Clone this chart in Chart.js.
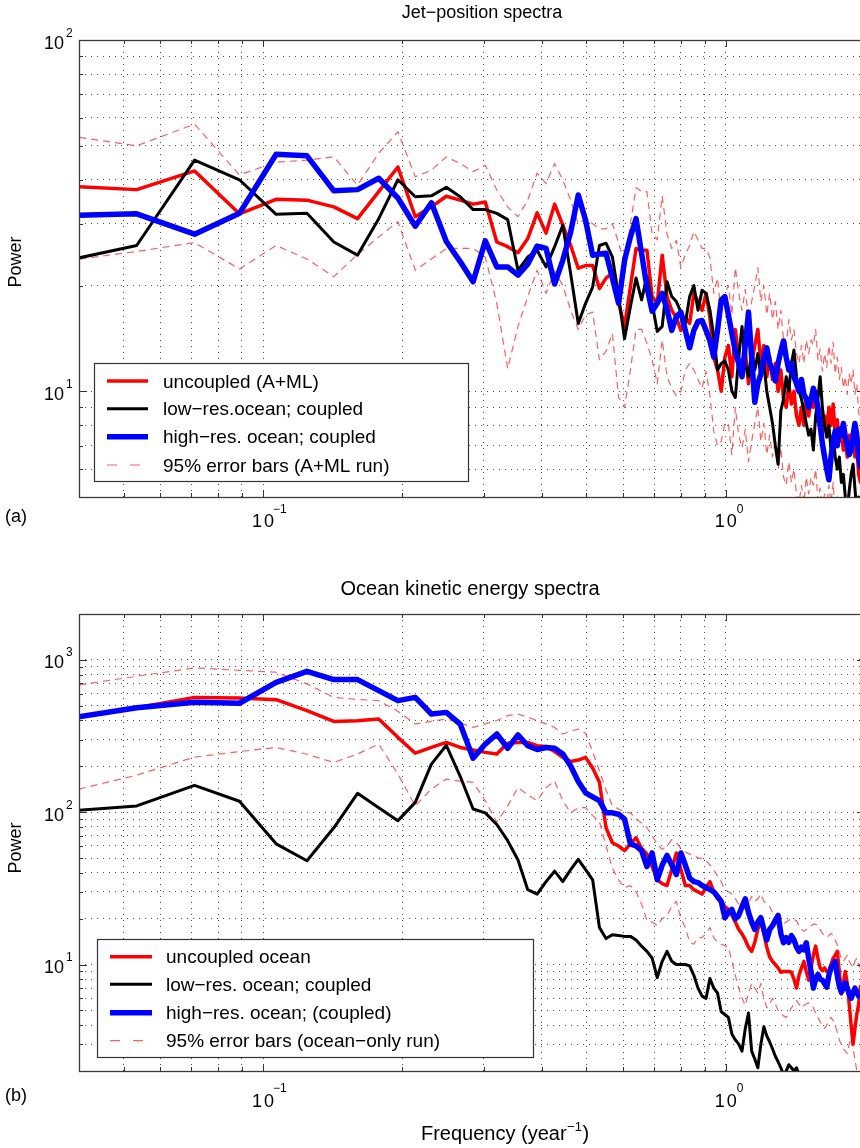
<!DOCTYPE html>
<html><head><meta charset="utf-8">
<script src="https://cdn.jsdelivr.net/npm/chart.js@4.4.0/dist/chart.umd.min.js"></script>
<style>
html,body{margin:0;padding:0;background:#fff;overflow:hidden;width:860px;height:1148px;}
#wrapA{position:absolute;left:0;top:0;width:870px;height:560px;}
#wrapB{position:absolute;left:0;top:560px;width:870px;height:588px;}
</style></head><body>
<div id="wrapA"><canvas id="cA" width="870" height="560"></canvas></div>
<div id="wrapB"><canvas id="cB" width="870" height="588"></canvas></div>
<script>
// frequencies (year^-1)
const freq = [
0.0356,0.0533,0.0711,0.0889,0.1067,0.1244,0.1422,0.1600,0.1778,0.1956,
0.2133,0.2311,0.2489,0.2667,0.2844,0.3022,0.3200,0.3378,0.3556,0.3733,
0.3911,0.4089,0.4267,0.4444,0.4622,0.4800,0.4978,0.5156,0.5333,0.5511,
0.5689,0.5867,0.6044,0.6222,0.6400,0.6578,0.6756,0.6933,0.7111,0.7289,
0.7467,0.7644,0.7822,0.8000,0.8178,0.8356,0.8533,0.8711,0.8889,0.9067,
0.9244,0.9422,0.9600,0.9778,0.9956,1.0133,1.0311,1.0489,1.0667,1.0844,
1.1022,1.1200,1.1378,1.1556,1.1733,1.1911,1.2089,1.2267,1.2444,1.2622,
1.2800,1.2978,1.3156,1.3333,1.3511,1.3689,1.3867,1.4044,1.4222,1.4400,
1.4578,1.4756,1.4933,1.5111,1.5289,1.5467,1.5644,1.5822,1.6000,1.6178,
1.6356,1.6533,1.6711,1.6889,1.7067,1.7244,1.7422,1.7600,1.7778,1.7956,
1.8133,1.8311,1.8489,1.8667,1.8844,1.9022,1.9200,1.9378,1.9556,1.9733,
1.9911,2.0089];

// (a) Jet-position spectra
const jetUncoupled = [
38.5,37.5,42.4,32.0,35.2,35.0,33.5,31.0,37.0,43.5,
31.4,33.5,35.9,35.0,34.1,34.6,26.6,25.8,24.8,27.2,
32.2,28.2,34.1,29.7,26.0,22.4,22.8,22.8,19.6,21.0,
21.7,17.8,15.3,19.8,25.5,25.2,25.2,18.6,17.8,24.4,
18.6,17.0,16.2,14.9,16.2,15.6,19.0,18.0,17.0,19.0,
16.2,12.5,11.5,10.0,12.5,13.5,11.0,15.0,12.5,11.5,
13.0,10.5,12.0,13.5,15.0,12.0,13.5,11.0,12.5,10.8,
12.0,10.0,11.5,9.5,9.0,10.5,9.2,10.0,8.5,8.0,
9.0,8.0,9.5,8.5,9.5,9.0,10.0,8.2,8.8,7.6,
8.5,7.8,9.0,8.0,9.2,7.5,8.3,7.2,7.8,6.8,
7.3,6.5,7.5,7.0,7.7,6.5,7.0,5.8,5.5,6.0,
5.2,5.5];
const jetLowRes = [
23.2,26.0,45.5,40.0,31.9,32.1,26.6,24.4,31.0,40.0,
35.8,36.0,38.1,35.8,32.9,32.9,32.1,30.8,22.1,24.1,
25.2,22.6,25.8,29.7,21.6,15.6,17.8,19.8,26.0,26.4,
24.1,18.6,14.1,17.4,21.0,18.2,21.2,17.8,14.8,15.3,
20.5,18.6,18.0,16.8,15.6,18.6,20.0,17.0,19.4,19.0,
17.0,14.3,11.5,12.0,12.2,11.5,10.0,9.6,12.5,15.3,
12.0,11.0,13.0,11.5,12.8,11.0,12.0,10.0,9.0,8.1,
7.0,6.2,8.8,9.5,11.0,10.0,12.0,13.1,11.0,10.0,
9.5,8.8,8.1,7.5,7.8,6.8,8.5,9.5,11.0,9.0,
8.0,7.4,8.0,6.8,7.5,6.5,6.0,6.5,5.5,5.8,
5.0,4.6,5.2,5.8,6.2,5.3,4.5,5.0,4.6,5.2,
4.3,4.8];
const jetHighRes = [
31.6,32.0,28.0,32.1,47.3,46.8,37.2,37.5,40.4,35.5,
29.5,34.4,26.7,23.4,20.5,26.8,22.6,22.6,21.4,23.0,
25.9,25.5,20.2,23.6,28.4,36.2,30.7,24.4,24.6,24.7,
21.0,17.8,23.6,27.5,31.0,24.7,19.8,16.9,17.8,19.0,
17.1,14.9,16.3,16.8,14.9,13.3,14.9,15.8,15.9,14.9,
13.9,12.5,14.9,18.2,18.6,16.5,14.6,13.0,12.0,11.0,
13.5,16.8,12.5,9.3,10.5,11.2,12.5,13.3,12.0,11.5,
10.7,12.0,13.0,13.9,12.5,11.5,12.0,11.0,10.5,10.0,
10.8,9.8,9.5,9.0,9.5,10.2,9.7,9.0,8.0,7.1,
6.5,6.0,5.6,6.5,7.2,7.7,7.0,7.8,7.5,8.1,
7.4,7.0,6.6,6.8,7.5,8.1,7.5,6.5,6.1,6.6,
6.0,6.4];
const jetErrHigh = [
54,50,57.6,41.3,44.9,45.5,46.5,38.6,47.6,54.8,
40.8,42.6,46.5,44.5,42.2,44.0,37.4,33.5,31.4,35.0,
41.8,39.0,44.5,40,35,30,31,30,29,29,
30,26.5,23,30,38,37,37,28,27,36,
28,25.5,26.9,22.5,24.5,26,28.5,27,25.5,25.5,
24,19,21,16.5,19,20,16.5,22.5,19,17,
19.5,16,18,20,22.5,18,20,16.5,19,16,
18,15,17,14,13.5,16,14,15,12.8,12,
13.5,12,14,12.8,14,13.5,15,12.3,13.2,11.4,
12.8,11.7,13.5,12,13.8,11.2,12.5,10.8,11.7,10.2,
11,9.8,11.2,10.5,11.5,9.8,10.5,8.7,8.2,9,
7.8,8.2];
const jetErrLow = [
23.3,25,26.5,22.3,26.0,23.8,21.2,24.5,27.5,30.4,
22.1,23.8,25.5,25.5,25.5,24.1,17.8,11.6,15.3,18.6,
22.1,19.0,22.0,20,17,15,16.5,16.8,12.3,13,
14.6,9.6,9.0,11.5,15,15,13.7,12.3,10.5,14,
11,10.2,9.7,10.0,11.5,12.0,11.5,10.8,10.2,11.4,
9.7,7.7,7.0,7.2,8.1,8.1,6.6,9.0,7.5,6.9,
7.8,6.3,7.2,8.1,9.0,7.2,8.1,6.6,7.5,6.5,
7.2,6.0,6.9,5.7,5.4,6.3,5.5,6.0,5.1,4.8,
5.4,4.8,5.7,5.1,5.7,5.4,6.0,4.9,5.3,4.6,
5.1,4.7,5.4,4.8,5.5,4.5,5.0,4.3,4.7,4.1,
4.4,3.9,4.5,4.2,4.6,3.9,4.2,3.5,3.3,3.6,
3.1,3.3];

// (b) Ocean kinetic energy spectra
const oceanUncoupled = [
400,485,567,562,548,464,394,399,409,310,
244,266,287,266,256,247,241,284,287,287,
273,270,250,229,215,220,229,195,157,79,
63,60,56,62,68,58,53,44,36,34,
33,42,54,42,33,33,31,30,29,32,
35,30,27,26,24,23,21,19,17,15.9,
14.5,13,12.2,14,17,19.4,16,13,11.2,10.5,
10,9.5,8.9,9.0,9.0,9.0,8.9,8.0,7.0,8.5,
9.5,10.5,9.0,7.9,9.5,11.5,13.2,11,9.5,9.1,
9.5,9.0,9.0,10.0,11,11.5,12.2,9,6.4,7.5,
9.0,7.5,5.5,4.0,3.0,3.8,4.7,5.5,7.2,6.5,
5.5,6.0];
const oceanLowRes = [
100,110,150,118,62,48,79,133,107,88,
116,207,275,172,105,99,83,65,48.5,31,
29,35,41,35,42,49,42,36,17.5,14.8,
15.7,15.5,15.3,15.3,14.5,13.2,12.2,11.0,8.2,10.5,
12.2,10.5,10.0,10.0,10.0,9.8,8.5,7.0,6.2,6.0,
8.1,7.0,6.5,4.9,4.7,4.5,3.5,3.2,3.0,2.7,
3.8,4.8,2.7,2.4,2.1,3.0,3.9,3.4,3.1,2.8,
2.5,2.3,2.1,1.9,2.0,2.2,2.1,2.0,2.1,1.9,
1.7,1.8,1.6,1.7,1.5,1.6,1.4,1.5,1.3,1.4,
1.3,1.4,1.2,1.3,1.2,1.3,1.1,1.2,1.1,1.2,
1.0,1.1,1.0,1.1,1.0,1.0,1.0,1.0,1.0,1.0,
1.0,1.0];
const oceanHighRes = [
400,485,526,519,712,841,742,742,628,540,
567,441,452,379,226,280,326,263,322,273,
258,266,263,241,201,159,134,126,119,99,
99,97,90,62,60,56,44,54,36,45,
52,45,39,54,45,37,35,34.5,33,32,
31,30,28,26,20.3,22,23,20,21,24,
27,22,19,17,19,20.3,17,14.5,17,18,
19.5,21,16,13.9,15,14,15.5,14.5,13,12.2,
13,12.5,13.9,11,9,7.0,8.0,8.6,8.0,7.9,
7.5,7.1,8.5,9.5,10,10.5,8.5,7.2,6.6,7.0,
7.6,7.0,6.4,6.0,6.5,7.0,6.6,6.2,6.3,6.0,
5.7,6.0];
const oceanErrHigh = [
650,780,886,854,829,695,567,550,540,460,
379,395,409,385,360,380,400,430,441,420,
399,380,360,326,340,351,330,250,187,140,
110,105,100,99,90,85,79,70,62,57,
60,66,63,58,55,53,52,50,50,48,
45,42,38,35,31,30,29,27,25,24,
23,25,28,26,27,29,26,25,24,22,
21,20,19,18.5,19,19.5,20,19.7,19.4,18,
17,16.5,17,17.5,18,18.4,18.4,18,17,16,
15.5,15.1,15.5,16,15.5,14.5,13.5,12,11,10.5,
11,11.5,10.5,10,9.5,10.5,11,10,9.5,9.0,
9.5,9.0];
const oceanErrLow = [
130,175,230,250,266,240,212,241,280,178,
110,142,165,160,157,119,86,110,145,130,
119,145,160,119,99,107,107,95,87,60,
43,36,32,33,30,25,19.4,19,18,20,
21,24,26,20,17.5,14,13.6,15,15,16,
17.5,15,14,13.6,13.3,13,10.5,8.5,7,6,
5.4,6.5,7.5,7,6.5,7.5,6,5.2,5.5,6,
5.5,5,4.8,4.6,4.5,4.8,5.2,5.5,5.8,5.5,
5.2,5.4,5.5,5.6,5.5,5.2,4.8,4.5,4.2,4.0,
3.8,4.0,4.3,4.5,4.3,4.0,3.6,3.2,3.0,2.8,
2.7,2.6,3.0,3.3,2.8,2.4,2.0,1.8,1.9,2.2,
1.8,1.6];

// axis ticks
const xTicks = [0.04,0.05,0.06,0.07,0.08,0.09,0.1,0.2,0.3,0.4,0.5,0.6,0.7,0.8,0.9,1,2];
const yTicksJet = [5,6,7,8,9,10,20,30,40,50,60,70,80,90,100];
const yTicksOcean = [2,3,4,5,6,7,8,9,10,20,30,40,50,60,70,80,90,100,200,300,400,500,600,700,800,900,1000,2000];
const xTickLabels = [0.1, 1];
const yTickLabelsJet = [10, 100];
const yTickLabelsOcean = [10, 100, 1000];

const legendJet = ['uncoupled (A+ML)','low\u2212res.ocean; coupled','high\u2212res. ocean; coupled','95% error bars (A+ML run)'];
const legendOcean = ['uncoupled ocean','low\u2212res. ocean; coupled','high\u2212res. ocean; (coupled)','95% error bars (ocean\u2212only run)'];

const FONT = '"Liberation Sans", Arial, Helvetica, sans-serif';
const RED = '#ff0000', BLACK = '#000000', BLUE = '#0000ff', DASH = 'rgba(255,40,40,0.75)';
const styles = [
  {color: RED, width: 3.5, dash: []},
  {color: BLACK, width: 3, dash: []},
  {color: BLUE, width: 5.5, dash: []},
  {color: DASH, width: 1.2, dash: [7,5]}
];

function pts(arr){ return freq.map((f,i)=>({x:f, y:arr[i]})); }
function isDecade(v){ const l=Math.log10(v); return Math.abs(l-Math.round(l))<1e-9; }

function makeDatasets(unc, low, high, eh, el, labels){
  const clip = {left:0,top:0,right:0,bottom:0};
  const mk = (lab, arr, st, order)=>({label:lab, data:pts(arr), borderColor:st.color, borderWidth:st.width,
     borderDash:st.dash, pointRadius:0, tension:0, fill:false, order:order, clip:clip,
     borderJoinStyle:'round', borderCapStyle:'butt'});
  return [
    mk(labels[0], unc, styles[0], 3),
    mk(labels[1], low, styles[1], 2),
    mk(labels[2], high, styles[2], 1),
    mk(labels[3], eh, styles[3], 4),
    mk(labels[3]+' ', el, styles[3], 5)
  ];
}

const decoPlugin = {
  id: 'deco',
  afterDraw(chart, args, o){
    const ctx = chart.ctx, a = chart.chartArea, xs = chart.scales.x, ys = chart.scales.y;
    ctx.save();
    // inward tick marks
    ctx.strokeStyle = '#333'; ctx.lineWidth = 1;
    ctx.beginPath();
    for (const v of o.xTicks){
      const px = Math.round(xs.getPixelForValue(v)) + 0.5, L = isDecade(v) ? 7 : 4;
      ctx.moveTo(px, a.bottom); ctx.lineTo(px, a.bottom - L);
      ctx.moveTo(px, a.top); ctx.lineTo(px, a.top + L);
    }
    for (const v of o.yTicks){
      const py = Math.round(ys.getPixelForValue(v)) + 0.5, L = isDecade(v) ? 8 : 4;
      ctx.moveTo(a.left, py); ctx.lineTo(a.left + L, py);
      ctx.moveTo(a.right, py); ctx.lineTo(a.right - L, py);
    }
    ctx.stroke();
    // axes box
    ctx.strokeStyle = '#3a3a3a'; ctx.lineWidth = 1.3;
    ctx.strokeRect(Math.round(a.left)+0.5, Math.round(a.top)+0.5, Math.round(a.right-a.left), Math.round(a.bottom-a.top));
    // tick labels
    ctx.fillStyle = '#000';
    ctx.textBaseline = 'alphabetic';
    for (const v of o.yLabels){
      const py = ys.getPixelForValue(v);
      const e = String(Math.round(Math.log10(v)));
      ctx.font = '18px ' + FONT; ctx.textAlign = 'right';
      ctx.fillText('10', o.yLab.x, py + o.yLab.base);
      ctx.font = '12px ' + FONT; ctx.textAlign = 'left';
      ctx.fillText(e, o.yLab.x + 2, py + o.yLab.exp);
    }
    for (const v of o.xLabels){
      const px = xs.getPixelForValue(v);
      const n = Math.round(Math.log10(v));
      const e = n < 0 ? '\u2212' + (-n) : String(n);
      ctx.font = '18px ' + FONT; ctx.textAlign = 'center';
      ctx.letterSpacing = '2px';
      ctx.fillText('10', px + 1, o.xLab.base);
      ctx.letterSpacing = '0px';
      ctx.font = '12px ' + FONT; ctx.textAlign = 'left';
      ctx.fillText(e, px + (n < 0 ? 10 : 11), o.xLab.exp);
    }
    // title
    ctx.font = o.title.size + 'px ' + FONT; ctx.textAlign = 'center';
    ctx.fillText(o.title.text, o.title.x, o.title.y);
    // panel letter
    ctx.font = '18px ' + FONT; ctx.textAlign = 'left';
    ctx.fillText(o.panel.text, o.panel.x, o.panel.y);
    // y label
    ctx.save();
    ctx.translate(o.ylabel.x, o.ylabel.y); ctx.rotate(-Math.PI/2);
    ctx.font = '18px ' + FONT; ctx.textAlign = 'center';
    ctx.fillText('Power', 0, 0);
    ctx.restore();
    // x label
    if (o.xlabel){
      const t1 = 'Frequency (year', t3 = ')';
      ctx.textAlign = 'left';
      ctx.font = '20px ' + FONT; const w1 = ctx.measureText(t1).width;
      ctx.font = '13px ' + FONT; const w2 = ctx.measureText('\u22121').width;
      ctx.font = '20px ' + FONT; const w3 = ctx.measureText(t3).width;
      let x0 = o.xlabel.x - (w1 + w2 + w3 + 1) / 2;
      ctx.fillText(t1, x0, o.xlabel.y);
      ctx.font = '13px ' + FONT; ctx.fillText('\u22121', x0 + w1 + 0.5, o.xlabel.y - 9);
      ctx.font = '20px ' + FONT; ctx.fillText(t3, x0 + w1 + w2 + 1, o.xlabel.y);
    }
    // legend
    const L = o.legend;
    ctx.fillStyle = '#fff';
    ctx.fillRect(L.box[0], L.box[1], L.box[2]-L.box[0], L.box[3]-L.box[1]);
    ctx.strokeStyle = '#333'; ctx.lineWidth = 1.2;
    ctx.strokeRect(L.box[0]+0.5, L.box[1]+0.5, L.box[2]-L.box[0], L.box[3]-L.box[1]);
    const ds = chart.data.datasets;
    for (let i = 0; i < 4; i++){
      const d = ds[i], y = L.rows[i];
      ctx.save();
      ctx.strokeStyle = d.borderColor; ctx.lineWidth = d.borderWidth;
      ctx.setLineDash(i === 3 ? [10, 13] : []);
      ctx.beginPath(); ctx.moveTo(L.sx[0], y); ctx.lineTo(L.sx[1], y); ctx.stroke();
      ctx.restore();
      ctx.fillStyle = '#000'; ctx.font = L.size + 'px ' + FONT; ctx.textAlign = 'left';
      ctx.fillText(d.label.trim(), L.tx, y + 6.5);
    }
    ctx.restore();
  }
};

function makeChart(id, datasets, ymin, ymax, yTicks, deco, pad){
  return new Chart(document.getElementById(id), {
    type: 'line',
    data: {datasets: datasets},
    options: {
      responsive: false, devicePixelRatio: 1, animation: false,
      layout: {padding: pad},
      plugins: {legend: {display: false}, tooltip: {enabled: false}, deco: deco},
      scales: {
        x: {type: 'logarithmic', position: 'bottom', min: 0.04, max: 2.0,
            afterBuildTicks: s => { s.ticks = xTicks.map(v => ({value: v})); },
            ticks: {display: false},
            grid: {color: 'rgba(0,0,0,0.7)', lineWidth: 1, drawTicks: false},
            border: {display: false, dash: [1, 5]}},
        y: {type: 'logarithmic', position: 'left', min: ymin, max: ymax,
            afterBuildTicks: s => { s.ticks = yTicks.map(v => ({value: v})); },
            ticks: {display: false},
            grid: {color: 'rgba(0,0,0,0.7)', lineWidth: 1, drawTicks: false},
            border: {display: false, dash: [1, 5]}}
      }
    },
    plugins: [decoPlugin]
  });
}

makeChart('cA', makeDatasets(jetUncoupled, jetLowRes, jetHighRes, jetErrHigh, jetErrLow, legendJet), 5, 100, yTicksJet, {
  xTicks: xTicks, yTicks: yTicksJet, xLabels: xTickLabels, yLabels: yTickLabelsJet,
  yLab: {x: 64, base: 8.5, exp: -3.5}, xLab: {base: 527, exp: 513},
  title: {text: 'Jet\u2212position spectra', x: 482, y: 18, size: 18},
  panel: {text: '(a)', x: 5, y: 522},
  ylabel: {x: 21, y: 262},
  legend: {box: [94, 363, 468, 481], rows: [381, 408.7, 436.7, 465], sx: [107, 148], tx: 163, size: 19}
}, {left: 79, top: 40, right: 5, bottom: 63});

makeChart('cB', makeDatasets(oceanUncoupled, oceanLowRes, oceanHighRes, oceanErrHigh, oceanErrLow, legendOcean), 2, 2000, yTicksOcean, {
  xTicks: xTicks, yTicks: yTicksOcean, xLabels: xTickLabels, yLabels: yTickLabelsOcean,
  yLab: {x: 64, base: 8.5, exp: -3.5}, xLab: {base: 547, exp: 532},
  title: {text: 'Ocean kinetic energy spectra', x: 470, y: 35, size: 20},
  panel: {text: '(b)', x: 5, y: 541},
  ylabel: {x: 21, y: 288},
  xlabel: {x: 505, y: 580},
  legend: {box: [97, 379, 533, 497], rows: [396.7, 424.3, 452.7, 480.7], sx: [110, 152], tx: 166, size: 19}
}, {left: 79, top: 54, right: 5, bottom: 77});
</script>
</body></html>
